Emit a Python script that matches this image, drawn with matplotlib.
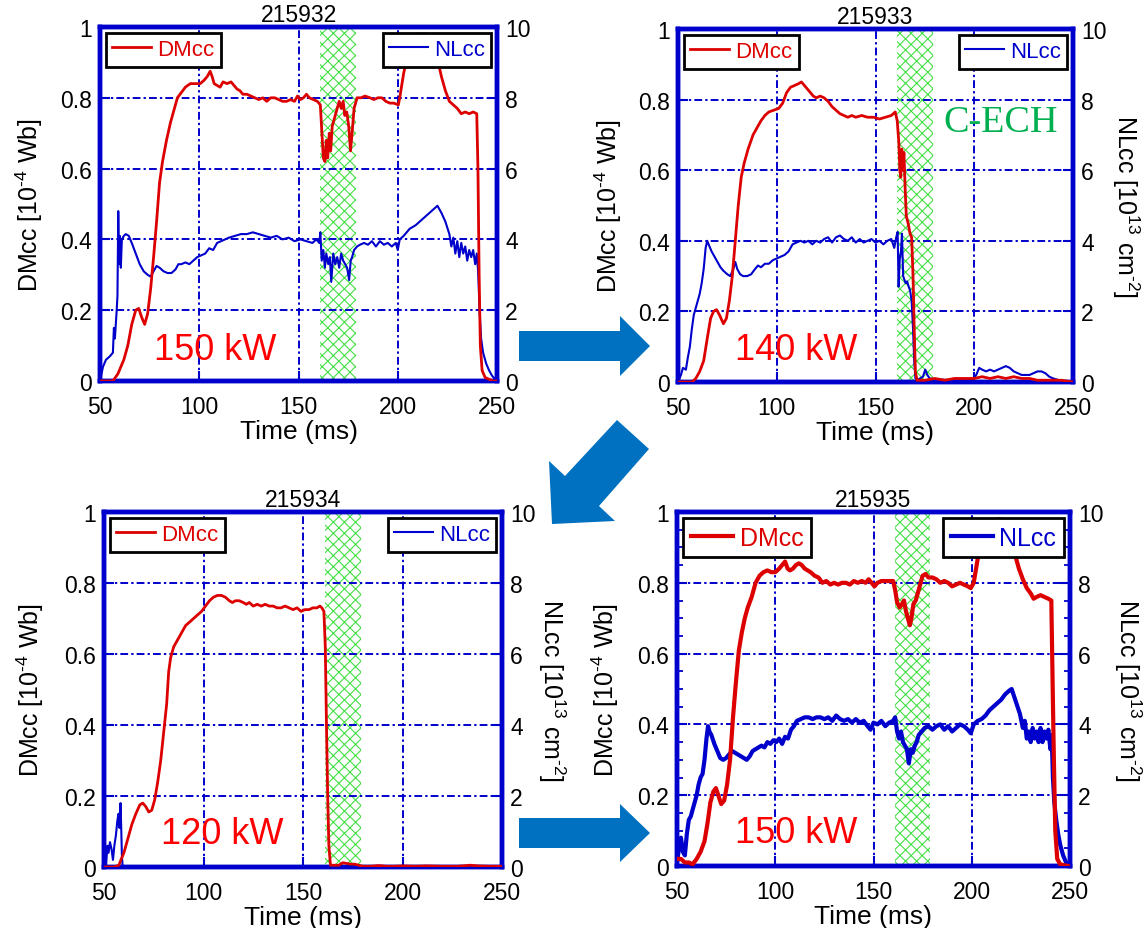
import numpy as np
import matplotlib
matplotlib.use("Agg")
import matplotlib.pyplot as plt
from matplotlib.patches import Polygon
from matplotlib.ticker import MultipleLocator

plt.rcParams['font.family'] = ['Liberation Sans', 'DejaVu Sans']
plt.rcParams['mathtext.fontset'] = 'custom'
plt.rcParams['mathtext.rm'] = 'Liberation Sans'
plt.rcParams['mathtext.it'] = 'Liberation Sans'
plt.rcParams['hatch.linewidth'] = 0.8

# ---------------- data ----------------
shots = ["215932", "215933", "215934", "215935"]
powers = ["150 kW", "140 kW", "120 kW", "150 kW"]
ech_window = [161, 179]
x_ticks = [50, 100, 150, 200, 250]
dm_ticks = [0, 0.2, 0.4, 0.6, 0.8, 1.0]
dm_ticklabels = ["0", "0.2", "0.4", "0.6", "0.8", "1"]
nl_ticks = [0, 2, 4, 6, 8, 10]
nl_ticklabels = ["0", "2", "4", "6", "8", "10"]

# DMcc (1e-4 Wb), (time ms, value)
dm_215932 = [(50,0),(56.5,0),(59,0.02),(62,0.06),(64,0.1),(66,0.16),(68,0.2),(69.5,0.205),(71,0.18),(72.5,0.16),
    (74,0.19),(75.5,0.26),(77,0.35),(78.5,0.45),(80,0.56),(81.5,0.62),(83.5,0.68),(85.5,0.73),(87.5,0.77),(89,0.8),
    (91,0.815),(93,0.83),(95.5,0.84),(98,0.84),(100.5,0.84),(102.5,0.85),(104,0.86),(105.5,0.875),(106.5,0.86),(107.5,0.84),
    (109,0.835),(110.5,0.83),(112,0.845),(114,0.84),(116,0.845),(117.5,0.835),(119,0.825),(120.5,0.82),(122,0.81),(124,0.81),
    (126,0.805),(128,0.8),(130,0.795),(132,0.8),(134,0.79),(136,0.8),(138,0.8),(140,0.795),(142,0.79),(144,0.79),
    (146,0.795),(148,0.79),(149.5,0.805),(151,0.795),(152.5,0.8),(154,0.81),(155.5,0.8),(157.5,0.795),(159.5,0.79),(161,0.78),
    (161.8,0.7),(162.5,0.63),(163.3,0.62),(164,0.68),(164.7,0.63),(165.5,0.7),(166.2,0.65),(167,0.72),(168,0.74),(169,0.76),
    (170.5,0.79),(171.5,0.77),(172.5,0.79),(173.3,0.75),(174.3,0.76),(175.3,0.72),(176.2,0.65),(177,0.7),(178,0.77),(179.5,0.8),
    (181.5,0.8),(183.5,0.805),(186,0.8),(188,0.795),(190,0.8),(192,0.8),(194,0.79),(196,0.785),(198,0.785),(200.3,0.78),
    (201,0.8),(203,0.87),(205,0.92),(207,0.96),(210,0.98),(215,0.98),(218,0.96),(220,0.91),(222,0.86),(224,0.82),
    (226,0.79),(228,0.78),(230,0.77),(232,0.755),(234,0.76),(236,0.755),(238,0.76),(239.8,0.755),(240.4,0.6),(241,0.3),
    (241.6,0.1),(242.5,0.03),(244,0.01),(246,0.005),(248,0),(250,0)]
dm_215933 = [(50,0),(57,0),(59,0.01),(61,0.03),(63,0.06),(65,0.13),(66.5,0.18),(68,0.2),(69.5,0.205),(71,0.19),
    (73,0.165),(74.5,0.18),(76,0.23),(77.5,0.3),(79,0.4),(80.5,0.5),(82,0.58),(83.5,0.62),(85.5,0.66),(88,0.7),
    (90,0.72),(92,0.74),(94,0.755),(96,0.765),(98.5,0.77),(101,0.775),(103,0.79),(105,0.82),(107,0.835),(109,0.84),
    (111,0.845),(112.5,0.85),(114,0.84),(115.5,0.83),(117,0.82),(118.5,0.81),(120,0.805),(122,0.81),(124,0.805),(126,0.795),
    (128,0.78),(130,0.77),(132,0.76),(134,0.755),(136,0.75),(138,0.755),(140,0.75),(143,0.755),(146,0.75),(149,0.75),
    (152,0.745),(155,0.75),(158,0.755),(160,0.765),(161,0.74),(161.8,0.68),(162.3,0.6),(162.8,0.58),(163.3,0.66),(163.8,0.6),
    (164.4,0.65),(165,0.55),(165.6,0.47),(166.5,0.45),(167.5,0.42),(168.3,0.41),(169,0.3),(169.6,0.15),(170.2,0.03),(171,0.005),
    (175,0.005),(180,0.01),(185,0.005),(190,0.01),(195,0.01),(200,0.01),(204,0.015),(208,0.01),(212,0.015),(216,0.01),
    (220,0.015),(224,0.01),(228,0.01),(232,0.005),(238,0.005),(244,0.005),(250,0)]
dm_215934 = [(50,0),(55,0),(57.5,0.005),(58.5,0.02),(60,0.04),(62,0.08),(64,0.12),(66,0.15),(68,0.175),(69.5,0.18),
    (71,0.17),(72.5,0.155),(74,0.16),(75.5,0.19),(77,0.24),(78.5,0.3),(80,0.38),(81.5,0.46),(82.5,0.55),(83.5,0.59),
    (85,0.62),(87,0.64),(89,0.66),(91,0.68),(93,0.69),(95,0.7),(97,0.71),(99,0.72),(101,0.735),(103,0.75),
    (105,0.76),(107,0.765),(109,0.765),(111,0.76),(113,0.75),(114.5,0.745),(116,0.75),(118,0.75),(120,0.745),(121.5,0.74),
    (123,0.745),(125,0.735),(127,0.74),(129,0.735),(131,0.74),(133,0.735),(135,0.735),(137,0.73),(139,0.73),(141,0.735),
    (143,0.73),(145,0.725),(147,0.73),(149,0.72),(151,0.725),(153,0.725),(155,0.73),(157,0.73),(158.5,0.735),(159.5,0.73),
    (160.5,0.72),(161.2,0.62),(161.8,0.4),(162.4,0.2),(163,0.06),(163.8,0.005),(166,0.005),(168,0.005),(170,0.012),(172,0.01),
    (174,0.008),(176,0.008),(178,0.005),(180,0.002),(184,0.002),(188,0.004),(192,0.002),(196,0.002),(200,0.003),(206,0.002),
    (212,0.003),(220,0.002),(228,0.002),(234,0.005),(238,0.003),(244,0.002),(250,0.002)]
dm_215935 = [(50,0.02),(52,0.02),(54,0.01),(56,0.01),(58,0.005),(60,0.02),(62,0.04),(64,0.07),(65.5,0.12),(67,0.18),
    (68.5,0.21),(69.8,0.22),(71,0.2),(72.5,0.175),(74,0.185),(75.5,0.23),(77,0.3),(78.5,0.42),(80,0.52),(81.5,0.61),
    (83,0.66),(84.5,0.7),(86,0.73),(88,0.76),(90,0.8),(92,0.82),(94,0.83),(96,0.835),(98,0.83),(100,0.83),
    (102,0.84),(103.5,0.85),(105,0.86),(106.3,0.84),(107.5,0.835),(109,0.84),(110.5,0.85),(112,0.855),(113.5,0.85),(115,0.84),
    (116.5,0.835),(118,0.83),(120,0.82),(122,0.815),(124,0.8),(126,0.805),(128,0.795),(130,0.8),(132,0.795),(134,0.8),
    (136,0.8),(138,0.795),(140,0.805),(142,0.8),(144,0.805),(146,0.8),(147.5,0.81),(149,0.8),(150.5,0.79),(152,0.8),
    (154,0.805),(156,0.805),(158,0.805),(160,0.805),(161,0.78),(162,0.745),(163.3,0.73),(164.5,0.74),(165.5,0.75),(166.5,0.72),
    (167.5,0.7),(168.5,0.68),(169.3,0.7),(170.3,0.74),(171.5,0.75),(172.5,0.77),(173.5,0.79),(175,0.82),(176.5,0.825),(178,0.815),
    (180,0.815),(182,0.81),(184,0.8),(186,0.805),(188,0.8),(190,0.79),(192,0.795),(194,0.8),(196,0.795),(198,0.79),
    (199.5,0.785),(201,0.8),(202.5,0.85),(204,0.9),(206,0.94),(209,0.97),(214,0.98),(218,0.97),(220,0.93),(222,0.88),
    (224,0.84),(226,0.81),(228,0.785),(230,0.77),(231.5,0.755),(233,0.76),(235,0.765),(237,0.76),(239,0.755),(240.5,0.75),
    (241.2,0.5),(241.8,0.3),(242.5,0.1),(243.5,0.02),(245,0.005),(247,0.002),(249,0)]

# NLcc (1e13 cm^-2), (time ms, value)
nl_215932 = [(50,0.0),(51.5,0.4),(53,0.6),(55,0.7),(56.5,0.8),(57,1.5),(57.5,1.2),(58.3,1.9),(58.8,2.4),(59.2,4.8),
    (59.6,3.3),(60,4.1),(60.5,3.2),(61,4.0),(62,4.1),(63,4.15),(64.5,4.1),(66,3.9),(68,3.6),(70,3.3),
    (72,3.1),(74,3.0),(75.5,2.95),(77,3.1),(78.5,3.25),(80,3.2),(82,3.1),(84,3.05),(86,3.05),(88,3.15),
    (89.5,3.3),(91,3.3),(93,3.35),(95,3.3),(97,3.4),(99,3.5),(101,3.55),(103,3.6),(105,3.75),(107,3.7),
    (109,3.9),(111,3.95),(113,4.0),(115,4.05),(118,4.1),(121,4.15),(124,4.15),(127,4.2),(130,4.15),(133,4.1),
    (136,4.05),(139,4.1),(142,4.0),(145,4.05),(148,3.95),(151,4.0),(154,3.95),(157,3.9),(159,4.0),(160.5,3.9),
    (161,4.2),(161.7,3.4),(162.5,3.7),(163.3,3.2),(164,3.6),(165,3.3),(165.8,3.5),(166.5,2.8),(167.5,3.6),(168.5,3.3),
    (169.5,3.5),(170.5,3.2),(171.5,3.6),(172.5,3.4),(173.5,3.3),(174.5,3.2),(175.5,2.85),(176.3,3.4),(177,3.5),(178,3.7),
    (179.5,3.8),(181,3.85),(183,3.9),(185,3.85),(187,3.95),(189,3.8),(191,3.95),(193,3.85),(195,3.9),(197,3.8),
    (199,3.9),(200,3.7),(201,4.0),(203,4.1),(206,4.3),(209,4.4),(212,4.55),(215,4.7),(218,4.85),(220,4.95),
    (222,4.75),(224,4.5),(226,4.15),(227,3.8),(228,4.05),(229,3.6),(230,3.95),(231,3.5),(232,3.9),(233,3.6),
    (234,3.8),(235,3.4),(236,3.7),(237,3.5),(238,3.7),(239,3.3),(239.8,3.6),(240.5,3.1),(241.2,2.0),(242,1.2),
    (243,0.8),(244.5,0.5),(246,0.3),(247.5,0.15),(249,0.05),(250,0.0)]
nl_215933 = [(50,0),(51.5,0.2),(52.5,0.4),(54,0.35),(55,0.7),(56,1.0),(57,1.5),(58,1.9),(59,2.1),(60,2.3),
    (61,2.5),(62,2.8),(63,3.2),(64,3.8),(64.8,4.0),(65.5,3.9),(67,3.7),(68.5,3.55),(70,3.4),(71.5,3.25),
    (73,3.15),(75,3.05),(76.5,3.0),(78,3.2),(79,3.4),(80,3.2),(81.5,3.05),(83,3.0),(85,3.0),(87,3.05),
    (89,3.2),(90.5,3.3),(92,3.25),(94,3.35),(96,3.35),(98,3.45),(100,3.5),(102,3.55),(104,3.6),(106,3.7),
    (108,3.9),(110,3.95),(112,4.0),(114,3.95),(116,4.0),(118,3.9),(120,4.0),(122,3.95),(124,4.05),(126,4.1),
    (128,3.95),(130,4.1),(132,4.15),(134,4.05),(136,4.0),(138,4.1),(140,3.95),(142,4.05),(144,3.95),(146,4.0),
    (148,4.05),(150,3.95),(152,4.0),(154,3.9),(156,4.0),(158,4.05),(159.5,3.8),(160.5,4.1),(161.2,4.25),(161.7,2.7),
    (162.3,3.5),(162.9,3.7),(163.4,4.2),(164,3.0),(164.6,2.9),(165.3,2.8),(166,2.85),(166.8,2.7),(167.5,2.6),(168.3,2.3),
    (169,1.5),(169.6,0.6),(170.2,0.1),(171,0.05),(172.5,0.1),(174,0.15),(175.2,0.35),(176.2,0.2),(177.5,0.1),(180,0.08),
    (185,0.06),(190,0.05),(195,0.05),(199,0.05),(201,0.2),(202.5,0.4),(204,0.35),(206,0.3),(208,0.35),(210,0.3),
    (212,0.35),(214,0.4),(216,0.45),(218,0.4),(220,0.3),(222,0.25),(224,0.2),(226,0.2),(228,0.2),(230,0.25),
    (232,0.3),(234,0.3),(236,0.25),(238,0.15),(240,0.1),(243,0.05),(246,0.02),(250,0)]
nl_215934 = [(51,0),(51.7,0.6),(52.3,0.4),(53,0.7),(53.8,0.5),(54.5,0.2),(55.2,0.6),(56,0.9),(56.7,1.3),(57.3,1.5),
    (57.8,1.1),(58.3,1.8),(58.7,1.0),(59,0.3),(59.4,0)]
nl_215935 = [(50,0.1),(51,0.5),(52,0.8),(53,0.4),(54,0.3),(55,0.9),(56,1.3),(57,1.4),(58,1.6),(59,1.8),
    (60,2.0),(61,2.3),(62,2.5),(63,2.6),(64,3.0),(65,3.6),(65.8,3.95),(66.5,3.8),(67.5,3.7),(69,3.45),
    (70.5,3.25),(72,3.05),(73.5,3.0),(75,3.05),(76.5,3.15),(78,3.25),(79.5,3.2),(81,3.15),(82.5,3.1),(84,3.05),
    (85.5,3.0),(87,3.1),(88.5,3.25),(90,3.3),(91.5,3.35),(93,3.4),(94.5,3.35),(96,3.5),(97.5,3.45),(99,3.55),
    (100.5,3.5),(102,3.6),(103.5,3.45),(105,3.65),(106.5,3.6),(108,3.85),(109.5,3.95),(111,4.1),(113,4.15),(115,4.2),
    (117,4.2),(119,4.15),(121,4.2),(123,4.2),(125,4.15),(127,4.2),(129,4.1),(131,4.25),(133,4.15),(135,4.1),
    (137,4.15),(139,4.05),(141,4.15),(143,4.05),(145,4.1),(147,3.95),(148.5,3.85),(150,4.05),(152,4.0),(154,4.1),
    (156,3.95),(158,4.05),(160,4.1),(161,4.2),(162,3.8),(163,3.6),(164,3.8),(165,3.5),(166,3.4),(167,3.3),
    (168,2.9),(169,3.3),(170,3.2),(171,3.4),(172,3.5),(173,3.7),(174.5,3.8),(176,3.9),(178,3.95),(180,3.85),
    (182,3.95),(184,4.0),(186,3.85),(188,3.95),(190,3.8),(192,3.9),(194,4.0),(196,3.95),(198,3.85),(199.5,3.75),
    (201,4.0),(203,4.1),(205,4.15),(207,4.25),(209,4.4),(211,4.5),(213,4.6),(215,4.7),(217,4.85),(219,4.95),
    (220.3,5.0),(221.5,4.8),(223,4.55),(224.5,4.3),(226,3.9),(227,4.1),(228,3.6),(229,3.8),(230,3.5),(231,3.9),
    (232,3.6),(233,3.8),(234,3.5),(235,3.9),(236,3.5),(237,3.8),(238,3.6),(239,3.85),(240,3.3),(240.7,3.7),
    (241.3,2.5),(242,1.8),(243,1.3),(244,0.9),(245,0.6),(246.5,0.3),(248,0.1),(249.5,0.05)]

dm_series = [dm_215932, dm_215933, dm_215934, dm_215935]
nl_series = [nl_215932, nl_215933, nl_215934, nl_215935]

# ---------------- layout / style ----------------
W, H = 1144, 929
fig = plt.figure(figsize=(W / 100, H / 100), dpi=100)
fig.patch.set_facecolor('white')

def box(l, r, t, b):
    return [l / W, 1 - b / H, (r - l) / W, (b - t) / H]

rects = [box(100, 497, 28, 382), box(678, 1073, 30, 383),
         box(104, 502, 513, 868), box(677, 1070, 513, 867)]
left_lab_x = [-0.179, -0.177, -0.186, -0.183]
right_lab_x = [None, 1.134, 1.126, 1.148]
power_pos = [(77, 0.09), (79, 0.092), (78.7, 0.094), (79.3, 0.094)]

FRAME = '#0000CC'
RED = '#DD0000'
BLUE = '#0000CC'
HY = '\u2010'
dm_label = 'DMcc [10$^{\\rm ' + HY + '4}$ Wb]'
nl_label = 'NLcc [10$^{\\rm 13}$ cm$^{\\rm ' + HY + '2}$]'

for i in range(4):
    thick = (i == 3)
    ax2 = fig.add_axes(rects[i])
    ax = ax2.twinx()
    ax2.yaxis.tick_right()
    ax.yaxis.tick_left()
    ax.set_zorder(ax2.get_zorder() + 1)
    ax.patch.set_visible(False)
    ax2.patch.set_facecolor('white')

    ax2.set_xlim(50, 250)
    ax.set_xlim(50, 250)
    ax.set_ylim(0, 1)
    ax2.set_ylim(0, 10)

    # C-ECH window
    ax2.axvspan(ech_window[0], ech_window[1], facecolor='none', edgecolor='#44E044',
                hatch='xxx', linewidth=0, zorder=1)
    # grid
    for xv in x_ticks[1:-1]:
        ax2.axvline(xv, color=FRAME, lw=1.4, ls=(0, (4, 1.6, 1.2, 1.6)), zorder=1.5)
    for yv in nl_ticks[1:-1]:
        ax2.axhline(yv, color=FRAME, lw=1.4, ls=(0, (4, 1.6, 1.2, 1.6)), zorder=1.5)

    nl = np.array(nl_series[i])
    dm = np.array(dm_series[i])
    lnl, = ax2.plot(nl[:, 0], nl[:, 1], color=BLUE, lw=3.0 if thick else 1.5, zorder=3)
    ldm, = ax.plot(dm[:, 0], dm[:, 1], color=RED, lw=3.0 if thick else 2.0, zorder=3)

    ax.set_xticks(x_ticks)
    ax2.set_xticks(x_ticks)
    ax.set_yticks(dm_ticks)
    ax.set_yticklabels(dm_ticklabels)
    ax2.set_yticks(nl_ticks)
    ax2.set_yticklabels(nl_ticklabels)
    ax2.set_xticklabels([str(v) for v in x_ticks])
    for a in (ax, ax2):
        a.tick_params(axis='both', direction='in', colors=FRAME, length=7, width=1.5,
                      labelsize=16.5, labelcolor='black', pad=6)
        for s in a.spines.values():
            s.set_color(FRAME)
            s.set_linewidth(3.2)
    ax.tick_params(axis='x', labelbottom=False, bottom=False)
    ax2.tick_params(axis='x', labelbottom=True, pad=10)
    if thick:
        ax.yaxis.set_minor_locator(MultipleLocator(0.05))
        ax2.yaxis.set_minor_locator(MultipleLocator(0.5))
        for a in (ax, ax2):
            a.tick_params(which='minor', direction='in', colors=FRAME, length=4, width=1.3)

    ax2.set_xlabel('Time (ms)', fontsize=19, labelpad=1)
    ax2.set_title(shots[i], fontsize=16.5, pad=4)
    ax.text(left_lab_x[i], 0.5, dm_label, transform=ax.transAxes,
            rotation=90, ha='center', va='center', rotation_mode='anchor', fontsize=18)
    if right_lab_x[i] is not None:
        ax.text(right_lab_x[i], 0.5, nl_label, transform=ax.transAxes,
                rotation=-90, ha='center', va='center', rotation_mode='anchor', fontsize=18)

    ax.text(power_pos[i][0], power_pos[i][1], powers[i], color='#FF0000', fontsize=26,
            ha='left', va='center', zorder=5)

    lfs = 18 if thick else 16
    leg_kw = dict(fontsize=lfs, frameon=True, fancybox=False, framealpha=1, edgecolor='black',
                  borderpad=0.3, handlelength=1.75 if not thick else 1.7, handletextpad=0.25,
                  borderaxespad=0.25, labelcolor='linecolor')
    l1 = ax.legend([ldm], ['DMcc'], loc='upper left', **leg_kw)
    l1.get_frame().set_linewidth(2.0)
    l1.set_zorder(10)
    ax.add_artist(l1)
    l2 = ax.legend([lnl], ['NLcc'], loc='upper right', **leg_kw)
    l2.get_frame().set_linewidth(2.0)
    l2.set_zorder(10)

    if i == 1:
        ax.text(184.2, 0.737, 'C-ECH', color='#00B050', fontsize=27.5,
                family=['Liberation Serif', 'DejaVu Serif'], ha='left', va='center', zorder=6)

# ---------------- arrows ----------------
ARROW = '#0070C0'
arrow_shapes = [
    [(519, 332), (620, 332), (620, 317), (650, 347), (620, 377), (620, 362), (519, 362)],
    [(617, 421), (649, 450), (599, 507), (615, 522), (552, 525), (549, 462), (565, 477)],
    [(519, 819), (620, 819), (620, 805), (650, 834), (620, 863), (620, 849), (519, 849)],
]
for pts in arrow_shapes:
    xy = [(x / W, 1 - y / H) for x, y in pts]
    fig.patches.append(Polygon(xy, closed=True, transform=fig.transFigure,
                               facecolor=ARROW, edgecolor='none', zorder=20))

fig.savefig('out.png', dpi=100)
